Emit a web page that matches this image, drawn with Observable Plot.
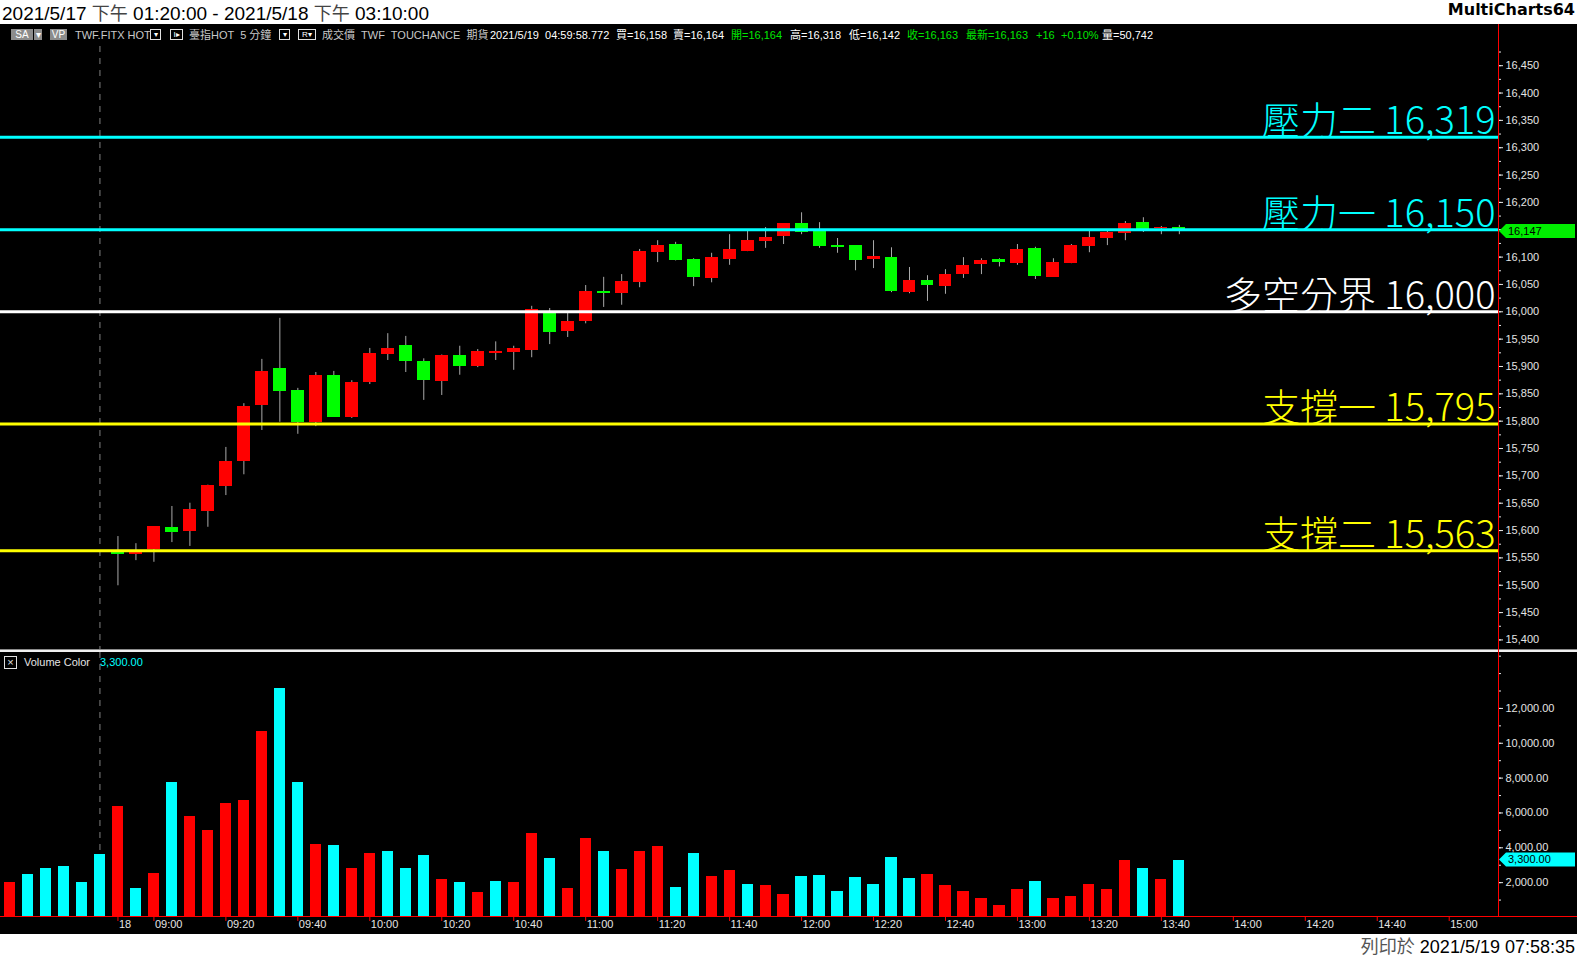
<!DOCTYPE html>
<html><head><meta charset="utf-8">
<script src="https://cdn.jsdelivr.net/npm/d3@7"></script>
<script src="https://cdn.jsdelivr.net/npm/@observablehq/plot@0.6"></script>
<style>
html,body{margin:0;padding:0;}
body{width:1577px;height:956px;background:#fff;position:relative;overflow:hidden;font-family:"Liberation Sans",Arial,"Noto Sans CJK TC",sans-serif;}
.abs{position:absolute;}
#title{left:2px;top:0;height:24px;line-height:25px;font-size:19px;color:#000;white-space:pre;}
#title .g{color:#444;font-family:"Noto Sans CJK TC",sans-serif;font-size:18px;}
#brand{right:2px;top:0;line-height:25px;font:bold 16px "DejaVu Sans",sans-serif;color:#000;}
#black{left:0;top:24px;width:1577px;height:910px;background:#000;}
.h{position:absolute;top:29px;font-size:11px;line-height:12px;white-space:pre;}
.box{position:absolute;top:29px;height:11px;font-size:10px;line-height:11px;text-align:center;color:#fff;box-sizing:border-box;}
.gb{background:#8c8c8c;}
.wb{border:1px solid #e0e0e0;background:#000;font-size:8px;line-height:9px;}
#footer{right:2px;top:934px;line-height:22px;font-size:18px;color:#000;white-space:pre;}
#footer .g{color:#555;font-family:"Noto Sans CJK TC",sans-serif;}
svg{position:absolute;left:0;}
</style></head>
<body>
<div id="title" class="abs">2021/5/17 <span class="g">下午</span> 01:20:00 - 2021/5/18 <span class="g">下午</span> 03:10:00</div>
<div id="brand" class="abs">MultiCharts64</div>
<div id="black" class="abs"></div>
<div id="footer" class="abs"><span class="g">列印於</span> 2021/5/19 07:58:35</div>
<script>
// ---------------- data ----------------
const barTimes = ["5/17 13:20","5/17 13:25","5/17 13:30","5/17 13:35","5/17 13:40","5/17 13:45",
"5/18 08:50","5/18 08:55","5/18 09:00","5/18 09:05","5/18 09:10","5/18 09:15","5/18 09:20","5/18 09:25","5/18 09:30","5/18 09:35",
"5/18 09:40","5/18 09:45","5/18 09:50","5/18 09:55","5/18 10:00","5/18 10:05","5/18 10:10","5/18 10:15","5/18 10:20","5/18 10:25",
"5/18 10:30","5/18 10:35","5/18 10:40","5/18 10:45","5/18 10:50","5/18 10:55","5/18 11:00","5/18 11:05","5/18 11:10","5/18 11:15",
"5/18 11:20","5/18 11:25","5/18 11:30","5/18 11:35","5/18 11:40","5/18 11:45","5/18 11:50","5/18 11:55","5/18 12:00","5/18 12:05",
"5/18 12:10","5/18 12:15","5/18 12:20","5/18 12:25","5/18 12:30","5/18 12:35","5/18 12:40","5/18 12:45","5/18 12:50","5/18 12:55",
"5/18 13:00","5/18 13:05","5/18 13:10","5/18 13:15","5/18 13:20","5/18 13:25","5/18 13:30","5/18 13:35","5/18 13:40","5/18 13:45"];

const open = [null,null,null,null,null,null,
15561,15556,15565,15606,15598,15635,15681,15727,15829,15896,
15856,15798,15883,15807,15871,15922,15938,15910,15872,15920,
15900,15924,15926,15929,15999,15964,15982,16037,16033,16053,
16108,16123,16096,16061,16096,16110,16128,16138,16161,16147,
16121,16121,16096,16099,16035,16057,16046,16068,16087,16096,
16088,16116,16063,16088,16119,16134,16143,16163,16152,16154];
const high = [null,null,null,null,null,null,
15589,15576,15607,15644,15650,15683,15752,15832,15913,15988,
15860,15889,15891,15874,15933,15960,15955,15914,15921,15937,
15931,15945,15937,16010,16006,15997,16048,16063,16068,16114,
16130,16127,16097,16107,16141,16149,16154,16161,16181,16163,
16134,16121,16130,16117,16081,16066,16077,16099,16097,16097,
16123,16118,16097,16123,16147,16147,16165,16172,16156,16158];
const low = [null,null,null,null,null,null,
15499,15545,15542,15578,15571,15606,15664,15702,15783,15798,
15776,15790,15807,15805,15867,15911,15889,15838,15847,15884,
15898,15911,15893,15916,15940,15953,15978,16008,16012,16044,
16090,16093,16046,16053,16085,16110,16116,16123,16141,16116,
16107,16075,16079,16035,16033,16019,16032,16061,16068,16082,
16085,16059,16063,16088,16108,16121,16130,16145,16141,16141];
const close = [null,null,null,null,null,null,
15556,15560,15607,15597,15638,15683,15727,15827,15891,15854,
15798,15883,15807,15871,15924,15933,15909,15874,15920,15900,
15927,15927,15933,16004,15962,15982,16037,16034,16055,16110,
16121,16094,16063,16099,16114,16130,16136,16161,16145,16119,
16118,16094,16101,16037,16057,16048,16068,16085,16094,16090,
16114,16064,16090,16121,16136,16145,16161,16150,16154,16147];

const volume = [2030,2490,2840,2950,2030,3600,6370,1680,2550,7760,
5790,4980,6540,6720,10660,13150,7760,4170,4120,2840,
3700,3760,2840,3540,2200,2030,1450,2090,2030,4810,
3360,1680,4520,3760,2780,3760,4060,1730,3700,2370,
2720,1910,1850,1330,2370,2430,1510,2310,1910,3420,
2260,2490,1850,1510,1100,700,1630,2090,1100,1220,
1910,1630,3250,2840,2200,3300];
const volColor = ["r","c","c","c","c","c","r","c","r","c",
"r","r","r","r","r","c","c","r","c","r",
"r","c","c","c","r","c","r","c","r","r",
"c","r","r","c","r","r","r","c","c","r",
"r","c","r","r","c","c","c","c","c","c",
"c","r","r","r","r","r","r","c","r","r",
"r","r","r","c","r","c"];

const levelNames = ["壓力二","壓力一","多空分界","支撐一","支撐二"];
const levelValues = [16319,16150,16000,15795,15563];
const levelColors = ["#00ffff","#00ffff","#ffffff","#ffff00","#ffff00"];

const tickTimes  = ["08:50","09:00","09:20","09:40","10:00","10:20","10:40","11:00","11:20","11:40","12:00","12:20","12:40","13:00","13:20","13:40","14:00","14:20","14:40","15:00"];
const tickLabels = ["18","09:00","09:20","09:40","10:00","10:20","10:40","11:00","11:20","11:40","12:00","12:20","12:40","13:00","13:20","13:40","14:00","14:20","14:40","15:00"];

const priceTicks = d3.range(15400, 16451, 50);
const volTicks = [2000,4000,6000,8000,10000,12000];

// ---------------- build ----------------
const fmt = d3.format(",");
const bars = barTimes.map((t, i) => ({i, t, open: open[i], high: high[i], low: low[i], close: close[i], vol: volume[i], vc: volColor[i]}));
const candles = bars.filter(d => d.open != null);
const levels = levelNames.map((name, k) => ({name, value: levelValues[k], color: levelColors[k]}));
const firstDayIdx = barTimes.findIndex(t => t.startsWith("5/18"));
const breakIdx = firstDayIdx - 1;
const minutes = s => { const [h, m] = s.split(":").map(Number); return h * 60 + m; };
const t0 = minutes(barTimes[firstDayIdx].split(" ")[1]);
const tickIdx = tickTimes.map(t => firstDayIdx + (minutes(t) - t0) / 5);
const labelOf = new Map(tickIdx.map((v, k) => [v, tickLabels[k]]));
const lastClose = close[close.length - 1];
const lastVol = volume[volume.length - 1];

const X_DOMAIN = [-0.528, 82.74];
const FONT = "Liberation Sans, Arial, sans-serif";
const baseStyle = {background: "transparent", color: "#e4e4e4", fontFamily: FONT, fontSize: "11px", overflow: "visible"};

function tag(value, bg, text) {
  return (index, scales, values, dim) => {
    const y = scales.y(value);
    const x0 = dim.width - dim.marginRight + 1;
    const g = d3.create("svg:g");
    g.append("path").attr("d", `M${x0},${y} L${x0 + 7},${y - 7} H${x0 + 76} V${y + 7} H${x0 + 7} Z`).attr("fill", bg);
    g.append("text").attr("x", x0 + 9).attr("y", y).attr("dy", "0.36em").attr("fill", "#000")
      .attr("text-anchor", "start").attr("font-size", 11).attr("font-family", FONT).text(text);
    return g.node();
  };
}

const pricePlot = Plot.plot({
  width: 1577, height: 603,
  marginTop: 0, marginBottom: 0, marginLeft: 0, marginRight: 79,
  style: baseStyle,
  x: {domain: X_DOMAIN, axis: null},
  y: {domain: [15382.5, 16485.1]},
  marks: [
    Plot.ruleX([breakIdx], {stroke: "#808080", strokeDasharray: "6,6"}),
    Plot.ruleX(candles, {x: "i", y1: "low", y2: "high", stroke: "#aaaaaa", strokeWidth: 1}),
    Plot.rect(candles, {x1: d => d.i - 0.36, x2: d => d.i + 0.36, y1: "open", y2: "close",
      fill: d => d.close > d.open ? "#ff0000" : "#00ff00", shapeRendering: "crispEdges"}),
    Plot.ruleY(levels, {y: "value", stroke: "color", strokeWidth: 3}),
    Plot.text(levels, {y: "value", frameAnchor: "right", textAnchor: "end", lineAnchor: "bottom", dx: -3, dy: -3,
      text: d => `${d.name} ${fmt(d.value)}`, fill: "color", fontSize: 38, fontWeight: 300,
      fontFamily: "Noto Sans CJK TC, sans-serif"}),
    Plot.axisY(d3.range(15400, 16476, 25), {anchor: "right", tickSize: 2, tickFormat: () => "", label: null}),
    Plot.axisY(priceTicks, {anchor: "right", tickSize: 4, tickPadding: 3, tickFormat: fmt, label: null}),
    tag(lastClose, "#00ee00", fmt(lastClose))
  ]
});
pricePlot.style.top = "46px";
document.body.appendChild(pricePlot);

const volPlot = Plot.plot({
  width: 1577, height: 282,
  marginTop: 0, marginBottom: 17, marginLeft: 0, marginRight: 79,
  style: baseStyle,
  x: {domain: X_DOMAIN},
  y: {domain: [0, 15210]},
  marks: [
    Plot.ruleX([breakIdx], {stroke: "#808080", strokeDasharray: "6,6"}),
    Plot.rect(bars, {x1: d => d.i - 0.31, x2: d => d.i + 0.31, y1: 0, y2: "vol",
      fill: d => d.vc === "r" ? "#ff0000" : "#00ffff", shapeRendering: "crispEdges"}),
    Plot.axisY(d3.range(1000, 15001, 1000), {anchor: "right", tickSize: 2, tickFormat: () => "", label: null}),
    Plot.axisY(volTicks, {anchor: "right", tickSize: 4, tickPadding: 3, tickFormat: d3.format(",.2f"), label: null}),
    Plot.axisX(tickIdx, {anchor: "bottom", tickSize: 4, stroke: "#ff0000", tickFormat: () => "", label: null}),
    Plot.axisX(tickIdx, {anchor: "bottom", tickSize: 0, tickPadding: 3, textAnchor: "start", dx: 1,
      tickFormat: d => labelOf.get(d), fill: "#e4e4e4", label: null}),
    tag(lastVol, "#00ffff", d3.format(",.2f")(lastVol))
  ]
});
volPlot.style.top = "652px";
document.body.appendChild(volPlot);

// ---------------- overlays (header strip, separators, axis lines) ----------------
function add(html, cls, style) {
  const e = document.createElement("div");
  e.className = cls; e.innerHTML = html; Object.assign(e.style, style);
  document.body.appendChild(e); return e;
}
add("SA", "box gb", {left: "11px", width: "22px"});
add("▾", "box gb", {left: "34px", width: "8px"});
add("VP", "box gb", {left: "50px", width: "17px"});
add("▾", "box wb", {left: "150px", width: "11px"});
add("I▸", "box wb", {left: "170px", width: "13px"});
add("▾", "box wb", {left: "279px", width: "11px"});
add("R▾", "box wb", {left: "298px", width: "18px"});
const hdr = [
  ["TWF.FITX HOT", 75, "#c8c8c8"], ["臺指HOT  5 分鐘", 189, "#c8c8c8"], ["成交價  TWF  TOUCHANCE  期貨", 322, "#c8c8c8"],
  ["2021/5/19  04:59:58.772", 490, "#ffffff"], ["買=16,158", 616, "#ffffff"], ["賣=16,164", 673, "#ffffff"],
  ["開=16,164", 731, "#00e600"], ["高=16,318", 790, "#ffffff"], ["低=16,142", 849, "#ffffff"],
  ["收=16,163", 907, "#00e600"], ["最新=16,163", 966, "#00e600"], ["+16", 1036, "#00e600"],
  ["+0.10%", 1061, "#00e600"], ["量=50,742", 1102, "#ffffff"]
];
hdr.forEach(([t, x, c]) => add(t, "h", {left: x + "px", color: c}));

// pane separator
add("", "abs", {left: "0px", top: "649px", width: "1577px", height: "1px", background: "#8a8a8a"});
add("", "abs", {left: "0px", top: "650px", width: "1577px", height: "2px", background: "#f0f0f0"});
// axis lines
add("", "abs", {left: "1498px", top: "24px", width: "1px", height: "893px", background: "#ff0000"});
add("", "abs", {left: "0px", top: "916px", width: "1577px", height: "1px", background: "#ff0000"});
// volume pane legend
add("×", "abs", {left: "4px", top: "656px", width: "11px", height: "11px", border: "1px solid #e0e0e0", color: "#e0e0e0", fontSize: "11px", lineHeight: "10px", textAlign: "center"});
add("Volume Color", "h", {left: "24px", top: "656px", color: "#e4e4e4"});
add(d3.format(",.2f")(lastVol), "h", {left: "100px", top: "656px", color: "#00ffff"});
</script>
</body></html>
